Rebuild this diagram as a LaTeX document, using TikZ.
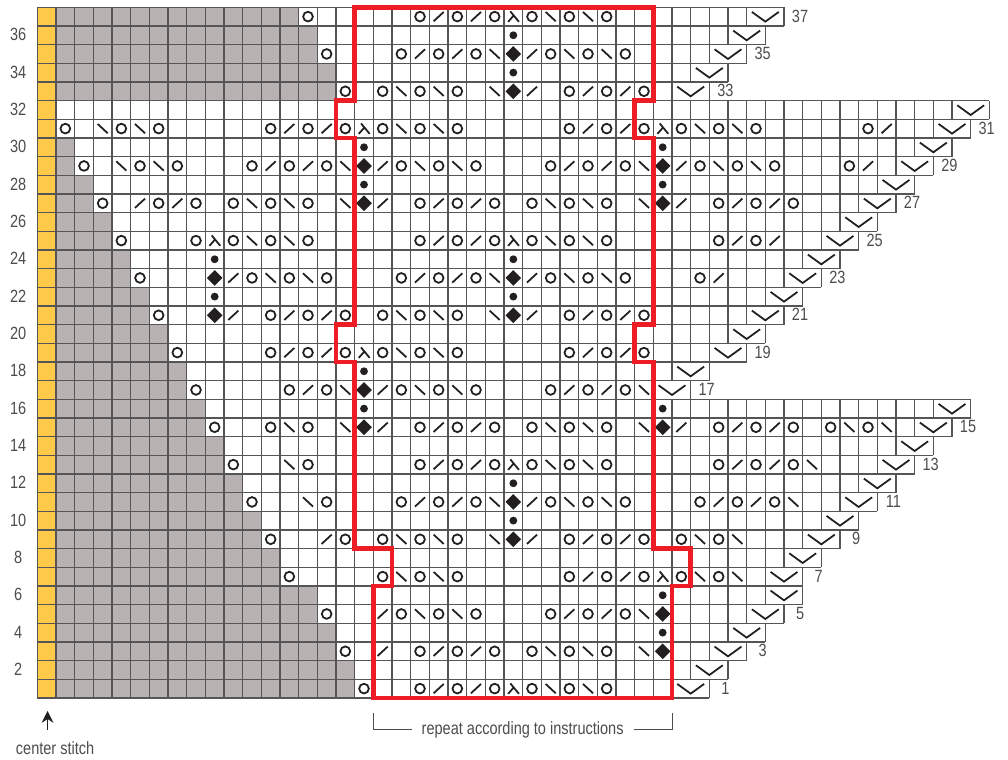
\documentclass[tikz,border=0pt]{standalone}
\usepackage{fontspec}
\setmainfont[FakeStretch=0.82]{Liberation Sans}
\usetikzlibrary{arrows.meta}
\definecolor{inkblack}{HTML}{231F20}
\definecolor{gridgray}{HTML}{555555}
\definecolor{labelgray}{HTML}{4D4D4F}
\definecolor{cellgray}{HTML}{B8B2B2}
\definecolor{centerorange}{HTML}{FFC94A}
\definecolor{repeatred}{HTML}{EE1C25}
\newcommand{\rowdata}{37/13/39,36/14/38,35/14/37,34/15/36,33/15/35,32/0/50,31/0/49,30/1/48,
  29/1/47,28/2/46,27/2/45,26/3/44,25/3/43,24/4/42,23/4/41,22/5/40,21/5/39,20/6/38,19/6/37,
  18/7/35,17/7/34,16/8/49,15/8/48,14/9/47,13/9/46,12/10/45,11/10/44,10/11/43,9/11/42,
  8/12/41,7/12/40,6/14/40,5/14/39,4/15/38,3/15/37,2/16/36,1/16/35}
\newcommand{\stitches}[2]{\foreach \r/\cols in {#2}{\foreach \c in \cols {\pic at (\c+.5,\r-.5) {#1};}}}
\tikzset{
  chartline/.style={gridgray,line width=0.95pt},
  symline/.style={inkblack,line width=1.35pt},
  rownum/.style={labelgray,font=\fontsize{13.5}{14}\selectfont,inner sep=0pt},
  yo/.pic={\draw[symline] (0,0) circle (0.26);},
  ktog/.pic={\draw[symline] (-.27,-.25) -- (.27,.25);},
  ssk/.pic={\draw[symline] (-.27,.25) -- (.27,-.25);},
  lambda/.pic={\draw[symline] (-.16,.28) -- (.3,-.28) (.02,.06) -- (-.28,-.28);},
  solid diamond/.pic={\fill[inkblack] (-.42,0) -- (0,.42) -- (.42,0) -- (0,-.42) -- cycle;},
  solid dot/.pic={\fill[inkblack] (0,0) circle (.21);},
  slip/.pic={\draw[symline] (-.72,.25) -- (0,-.27) -- (.72,.25);}
}

\begin{document}
\begin{tikzpicture}[x=0.5cm,y=0.5cm]
  \useasboundingbox (-2,-3.32) rectangle (52,37.39);
  \fill[white] (-2,-3.32) rectangle (52,37.39);
  \fill[centerorange] (0,0) rectangle (1,37);
  \foreach \r/\g/\e in \rowdata
    \fill[cellgray] (1,\r-1) rectangle (\g+1,\r);
  \foreach \r/\g/\e in \rowdata {
    \pgfmathtruncatemacro{\lastcol}{\e-1}
    \foreach \c in {0,...,\lastcol}
      \draw[chartline] (\c,\r-1) -- (\c,\r);
    \draw[chartline] (\e+1,\r-1) -- (\e+1,\r);
    \draw[chartline] (0,\r-1) -- (\e+1,\r-1);
    \pic at (\e,\r-.5) {slip};
    \ifodd\r
      \node[rownum] (num\r) at (\e+1.86,\r-.47) {\r};
    \fi
  }
  \draw[chartline] (0,37) -- (40,37);
  \draw[chartline] (36,32) -- (51,32);
  \draw[chartline] (35,16) -- (50,16);
  \foreach \r in {2,4,...,36}
    \node[rownum] (num\r) at (-1.03,\r-.47) {\r};

  \stitches{yo}{37/{14,20,22,24,26,28,30},35/{15,19,21,23,27,29,31},33/{16,18,20,22,28,30,32},
    31/{1,4,6,12,14,16,18,20,22,28,30,32,34,36,38,44},29/{2,5,7,11,13,15,19,21,23,27,29,31,35,37,39,43},
    27/{3,6,8,10,12,14,20,22,24,26,28,30,36,38,40},25/{4,8,10,12,14,20,22,24,26,28,30,36,38},
    23/{5,11,13,15,19,21,23,27,29,31,35},21/{6,12,14,16,18,20,22,28,30,32},19/{7,12,14,16,18,20,22,28,30,32},
    17/{8,13,15,19,21,23,27,29,31},15/{9,12,14,20,22,24,26,28,30,36,38,40,42,44},
    13/{10,14,20,22,24,26,28,30,36,38,40},11/{11,15,19,21,23,27,29,31,35,37,39},
    9/{12,16,18,20,22,28,30,32,34,36},7/{13,18,20,22,28,30,32,34,36},5/{15,19,21,23,27,29,31},
    3/{16,20,22,24,26,28,30},1/{17,20,22,24,26,28,30}}
  \stitches{ktog}{37/{21,23},35/{20,22,26},33/{26,29,31},31/{13,15,29,31,45},29/{12,14,18,28,30,34,44},
    27/{5,7,18,21,23,34,37,39},25/{21,23,37,39},23/{10,20,22,26,36},21/{10,13,15,26,29,31},
    19/{13,15,29,31},17/{14,18,28,30},15/{18,21,23,34,37,39},13/{21,23,37,39},11/{20,22,26,36,38},
    9/{15,26,29,31},7/{29,31},5/{18,28,30},3/{18,21,23},1/{21,23}}
  \stitches{ssk}{37/{27,29},35/{24,28,30},33/{19,21,24},31/{3,5,19,21,35,37},29/{4,6,16,20,22,32,36,38},
    27/{11,13,16,27,29,32},25/{11,13,27,29},23/{12,14,24,28,30},21/{19,21,24},19/{19,21},17/{16,20,22,32},
    15/{13,16,27,29,32,43,45},13/{13,27,29,41},11/{14,24,28,30,40},9/{19,21,24,35,37},7/{19,21,35,37},
    5/{20,22,32},3/{27,29,32},1/{27,29}}
  \stitches{lambda}{37/{25},31/{17,33},25/{9,25},19/{17},13/{25},7/{33},1/{25}}
  \stitches{solid diamond}{35/{25},33/{25},29/{17,33},27/{17,33},23/{9,25},21/{9,25},17/{17},15/{17,33},
    11/{25},9/{25},5/{33},3/{33}}
  \stitches{solid dot}{36/{25},34/{25},30/{17,33},28/{17,33},24/{9,25},22/{9,25},18/{17},16/{17,33},
    12/{25},10/{25},6/{33},4/{33}}

  \draw[repeatred,line width=3.5pt,miter limit=10] (17,37) -- (33,37) -- (33,32) -- (32,32) -- (32,30) -- (33,30)
    -- (33,20) -- (32,20) -- (32,18) -- (33,18) -- (33,8) -- (35,8) -- (35,6) -- (34,6) -- (34,0)
    -- (18,0) -- (18,6) -- (19,6) -- (19,8) -- (17,8) -- (17,18) -- (16,18) -- (16,20) -- (17,20)
    -- (17,30) -- (16,30) -- (16,32) -- (17,32) -- cycle;

  \node[rownum,inner xsep=7.5pt] (repeatlabel) at (26,-1.71) {repeat according to instructions};
  \coordinate (repeatleft) at (18,-.8);
  \coordinate (repeatright) at (34,-.8);
  \draw[labelgray,line width=0.6pt] (repeatleft) |- (repeatlabel.west);
  \draw[labelgray,line width=0.6pt] (repeatright) |- (repeatlabel.east);

  \node[rownum] (centerlabel) at (.95,-2.68) {center stitch};
  \coordinate (arrowfoot) at (.55,-1.71);
  \coordinate (arrowtip) at (.55,-.7);
  \draw[-{Stealth[length=9pt,width=9pt]},inkblack,line width=0.7pt] (arrowfoot) -- (arrowtip);
\end{tikzpicture}
\end{document}
